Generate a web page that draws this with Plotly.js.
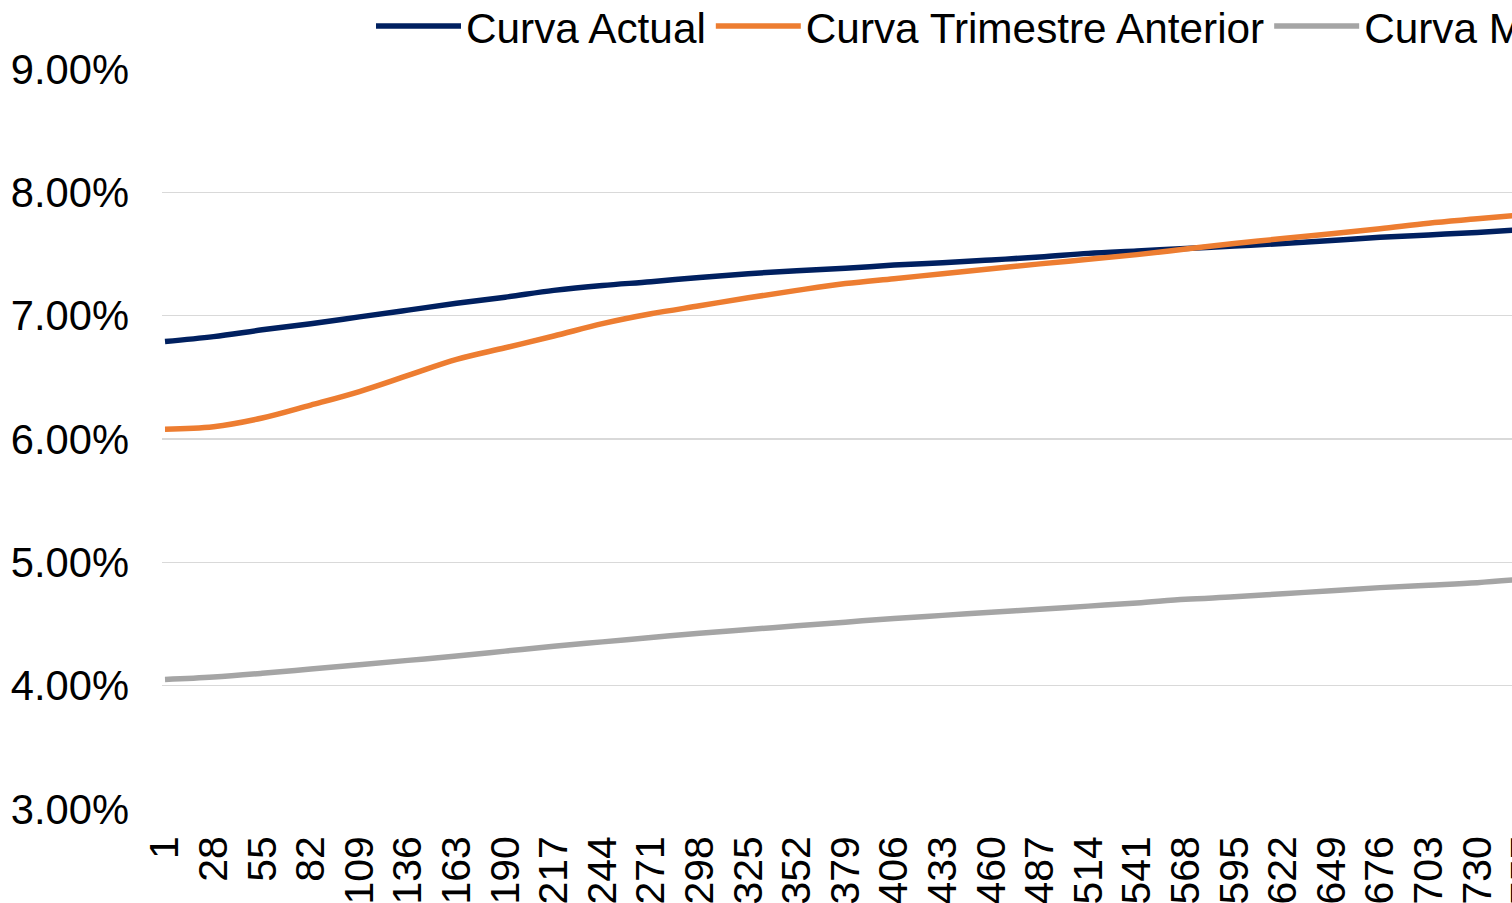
<!DOCTYPE html>
<html>
<head>
<meta charset="utf-8">
<script src="https://cdn.plot.ly/plotly-3.0.1.min.js"></script>
<style>
  html, body { margin: 0; padding: 0; overflow: hidden; background: #fff; }
  #chart { width: 2200px; height: 903px; }
</style>
</head>
<body>
<div id="chart"></div>
<script>
// Category (days) positions where readings were taken / tick labels
const days = [1, 28, 55, 82, 109, 136, 163, 190, 217, 244, 271, 298, 325, 352, 379, 406, 433, 460, 487, 514, 541, 568, 595, 622, 649, 676, 703, 730, 757];
const tickLabels = days.map(String);

// Series values (percent)
const curvaActual = [6.79, 6.83, 6.885, 6.935, 6.99, 7.045, 7.10, 7.15, 7.205, 7.245, 7.275, 7.31, 7.34, 7.365, 7.385, 7.41, 7.43, 7.452, 7.475, 7.505, 7.525, 7.545, 7.565, 7.585, 7.61, 7.635, 7.655, 7.675, 7.70];
const curvaTrimestreAnterior = [6.08, 6.10, 6.17, 6.275, 6.385, 6.515, 6.645, 6.74, 6.835, 6.935, 7.015, 7.08, 7.145, 7.205, 7.26, 7.30, 7.34, 7.38, 7.42, 7.457, 7.495, 7.54, 7.585, 7.625, 7.665, 7.705, 7.75, 7.785, 7.82];
const curvaM = [4.05, 4.07, 4.10, 4.135, 4.17, 4.205, 4.24, 4.28, 4.32, 4.355, 4.39, 4.425, 4.455, 4.485, 4.515, 4.545, 4.57, 4.595, 4.62, 4.645, 4.67, 4.70, 4.72, 4.745, 4.77, 4.795, 4.815, 4.835, 4.865];

const yTicks = [3, 4, 5, 6, 7, 8, 9];
const yTickText = yTicks.map(v => v.toFixed(2) + '%');

const FONT = 'Liberation Sans, Arial, sans-serif';

const lineStyle = (c) => ({ color: c, width: 5.5, shape: 'spline', smoothing: 1 });
const traces = [
  { x: days, y: curvaActual, name: 'Curva Actual', type: 'scatter', mode: 'lines', line: lineStyle('#002060') },
  { x: days, y: curvaTrimestreAnterior, name: 'Curva Trimestre Anterior', type: 'scatter', mode: 'lines', line: lineStyle('#ED7D31') },
  { x: days, y: curvaM, name: 'Curva Mismo Trimestre Año Anterior', type: 'scatter', mode: 'lines', line: lineStyle('#A5A5A5') }
];

// The visible 1512px window shows only the left part of a wider chart.
const W = 2200;
const PLOT_LEFT = 162;
const PLOT_RIGHT = 2150;
const PX_PER_DAY = 1.8;
const layout = {
  width: W, height: 903,
  margin: { l: PLOT_LEFT, r: W - PLOT_RIGHT, t: 69, b: 94, pad: 0, autoexpand: false },
  paper_bgcolor: '#fff', plot_bgcolor: '#fff',
  font: { family: FONT, size: 41, color: '#000' },
  showlegend: true,
  legend: {
    orientation: 'h', xref: 'container', yref: 'paper',
    x: 371 / W, xanchor: 'left', y: 1.012, yanchor: 'bottom',
    font: { family: FONT, size: 42.3, color: '#000' },
    itemwidth: 85, bgcolor: 'rgba(0,0,0,0)', tracegroupgap: 0
  },
  xaxis: {
    type: 'linear',
    range: [1 - 3 / PX_PER_DAY, 1 - 3 / PX_PER_DAY + (PLOT_RIGHT - PLOT_LEFT) / PX_PER_DAY],
    tickmode: 'array', tickvals: days, ticktext: tickLabels,
    tickangle: -90, ticks: '', showgrid: false, zeroline: false,
    showline: false, ticklabelstandoff: 18,
    tickfont: { family: FONT, size: 41, color: '#000' }
  },
  yaxis: {
    range: [3, 9], tickmode: 'array', tickvals: yTicks, ticktext: yTickText,
    showgrid: true, gridcolor: '#D9D9D9', gridwidth: 1.5, zeroline: false,
    showline: false, ticks: '', ticklabelstandoff: 32,
    tickfont: { family: FONT, size: 41.7, color: '#000' }
  }
};

Plotly.newPlot('chart', traces, layout, { displayModeBar: false, staticPlot: true });
</script>
</body>
</html>
